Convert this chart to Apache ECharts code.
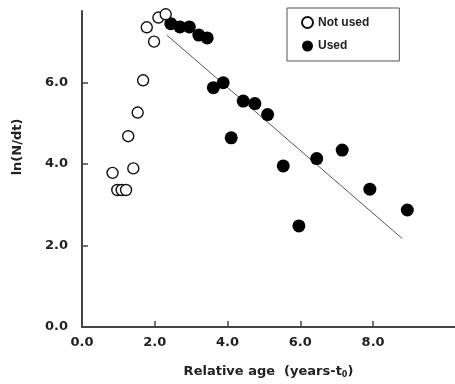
<!DOCTYPE html>
<html>
<head>
<meta charset="utf-8">
<script src="https://cdn.jsdelivr.net/npm/echarts@6/dist/echarts.min.js"></script>
<style>
  html, body { margin: 0; padding: 0; background: #fff; }
  #chart { width: 455px; height: 384px; }
</style>
</head>
<body>
<div id="chart"></div>
<script>
// 未使用的点 (空心)
const notUsedX = [0.84, 0.97, 1.09, 1.21, 1.27, 1.41, 1.53, 1.68, 1.78, 1.98, 2.10, 2.30]
const notUsedY = [3.78, 3.36, 3.36, 3.36, 4.68, 3.89, 5.26, 6.05, 7.35, 7.00, 7.59, 7.67]
// 使用的点 (实心)
const usedX = [2.44, 2.69, 2.95, 3.21, 3.44, 3.61, 3.88, 4.10, 4.43, 4.75, 5.10, 5.53, 5.96, 6.45, 7.15, 7.91, 8.94]
const usedY = [7.44, 7.36, 7.36, 7.16, 7.09, 5.87, 5.99, 4.64, 5.54, 5.48, 5.21, 3.95, 2.48, 4.13, 4.34, 3.38, 2.87]
// 回归线
const fitX = [2.33, 8.80]
const fitY = [7.16, 2.17]
// 刻度
const xTicks = [0, 2, 4, 6, 8]
const yTicks = [0, 2, 4, 6]

const zip = (xs, ys) => xs.map((x, i) => [x, ys[i]])

const chart = echarts.init(document.getElementById('chart'))
const labelStyle = {
  color: '#222',
  fontFamily: 'DejaVu Sans, sans-serif',
  fontWeight: 'bold',
  fontSize: 13
}
const option = {
  animation: false,
  grid: { left: 82, right: 0, top: 11, bottom: 57 },
  legend: {
    orient: 'vertical',
    left: 287,
    top: 8,
    padding: [8, 30, 9, 14],
    itemGap: 11,
    itemWidth: 11,
    itemHeight: 11,
    borderColor: '#555',
    borderWidth: 1,
    borderRadius: 0,
    textStyle: { color: '#222', fontWeight: 'bold', fontSize: 12, fontFamily: 'Liberation Sans, Arial, sans-serif' },
    data: ['Not used', 'Used']
  },
  xAxis: {
    type: 'value',
    min: 0,
    max: 10.25,
    interval: 2,
    name: 'Relative age  (years-t{sub|0})',
    nameLocation: 'middle',
    nameGap: 37,
    nameTextStyle: Object.assign({}, labelStyle, {
      fontSize: 13,
      rich: { sub: { fontSize: 8, fontWeight: 'bold', fontFamily: 'DejaVu Sans', verticalAlign: 'bottom', padding: [7, 0, 0, 0] } }
    }),
    axisLine: { lineStyle: { color: '#444', width: 2 } },
    axisTick: { inside: true, length: 6, customValues: xTicks, lineStyle: { color: '#444', width: 1.5 } },
    axisLabel: Object.assign({}, labelStyle, { margin: 9, customValues: xTicks, formatter: v => v.toFixed(1) }),
    splitLine: { show: false }
  },
  yAxis: {
    type: 'value',
    min: 0,
    max: 7.75,
    interval: 2,
    name: 'ln(N/dt)',
    nameLocation: 'middle',
    nameGap: 58,
    nameTextStyle: Object.assign({}, labelStyle, { fontSize: 13, padding: [0, 0, 0, 44] }),
    axisLine: { lineStyle: { color: '#444', width: 2 } },
    axisTick: { inside: true, length: 6, customValues: yTicks, lineStyle: { color: '#444', width: 1.5 } },
    axisLabel: Object.assign({}, labelStyle, { margin: 14, customValues: yTicks, formatter: v => v.toFixed(1) }),
    splitLine: { show: false }
  },
  series: [
    {
      name: 'fit',
      type: 'line',
      data: zip(fitX, fitY),
      symbol: 'none',
      lineStyle: { color: '#555', width: 1 },
      silent: true,
      z: 1
    },
    {
      name: 'Not used',
      type: 'scatter',
      data: zip(notUsedX, notUsedY),
      symbol: 'circle',
      symbolSize: 11,
      itemStyle: { color: '#fff', borderColor: '#111', borderWidth: 1.4, opacity: 1 },
      z: 3
    },
    {
      name: 'Used',
      type: 'scatter',
      data: zip(usedX, usedY),
      symbol: 'circle',
      symbolSize: 13,
      itemStyle: { color: '#000', opacity: 1 },
      z: 2
    }
  ]
}
chart.setOption(option)
</script>
</body>
</html>
